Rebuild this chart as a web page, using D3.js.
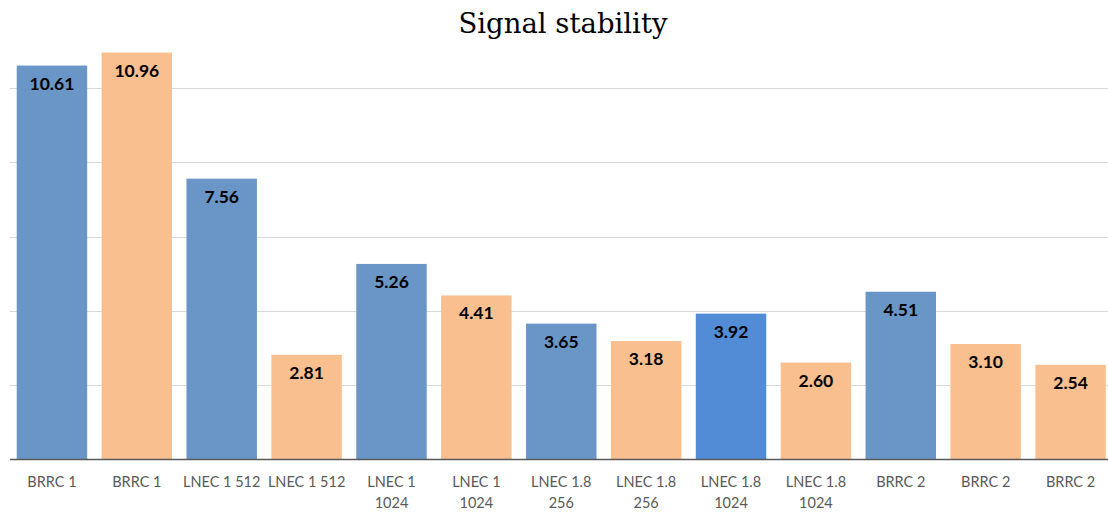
<!DOCTYPE html>
<html>
<head>
<meta charset="utf-8">
<script src="https://cdn.jsdelivr.net/npm/d3@7"></script>
<style>
  body { margin: 0; background: #fff; }
  svg { display: block; }
</style>
</head>
<body>
<div class="main"></div>
<script>
//// Data
const labels = ['BRRC 1', 'BRRC 1', 'LNEC 1 512', 'LNEC 1 512', 'LNEC 1|1024', 'LNEC 1|1024',
  'LNEC 1.8|256', 'LNEC 1.8|256', 'LNEC 1.8|1024', 'LNEC 1.8|1024', 'BRRC 2', 'BRRC 2', 'BRRC 2'];
const values = [10.61, 10.96, 7.56, 2.81, 5.26, 4.41, 3.65, 3.18, 3.92, 2.60, 4.51, 3.10, 2.54];
const colors = ['#6a95c7', '#f9bf8f', '#6a95c7', '#f9bf8f', '#6a95c7', '#f9bf8f', '#6a95c7',
  '#f9bf8f', '#528bd6', '#f9bf8f', '#6a95c7', '#f9bf8f', '#f9bf8f'];
const gridTicks = [2, 4, 6, 8, 10];

//// Layout
const width = 1108;
const height = 512;
const plotLeft = 9.5, plotRight = 1113, plotTop = 14, plotBottom = 459;

const svg = d3.select('.main').append('svg')
  .attr('width', width)
  .attr('height', height);

const xScale = d3.scaleBand()
  .domain(d3.range(values.length))
  .range([plotLeft, plotRight])
  .paddingInner(0.17)
  .paddingOuter(0.085);

const yScale = d3.scaleLinear()
  .domain([0, 12])
  .range([plotBottom, plotTop]);

// gridlines
svg.append('g')
  .selectAll('line')
  .data(gridTicks)
  .enter()
  .append('line')
  .attr('x1', plotLeft)
  .attr('x2', width)
  .attr('y1', d => Math.round(yScale(d)) + 0.5)
  .attr('y2', d => Math.round(yScale(d)) + 0.5)
  .attr('stroke', '#d9d9d9')
  .attr('stroke-width', 1);

// bars
svg.selectAll('rect.bar')
  .data(values)
  .enter()
  .append('rect')
  .attr('class', 'bar')
  .attr('x', (d, i) => xScale(i))
  .attr('y', d => yScale(d))
  .attr('width', xScale.bandwidth())
  .attr('height', d => plotBottom - yScale(d))
  .attr('fill', (d, i) => colors[i]);

// value labels
svg.selectAll('text.val')
  .data(values)
  .enter()
  .append('text')
  .attr('class', 'val')
  .attr('x', (d, i) => xScale(i) + xScale.bandwidth() / 2)
  .attr('y', d => yScale(d) + 24)
  .attr('text-anchor', 'middle')
  .style('font-family', 'Lato, "Open Sans", sans-serif')
  .style('font-weight', 'bold')
  .style('font-size', '17.5px')
  .style('fill', '#000')
  .text(d => d.toFixed(2));

// x axis
const xAxis = d3.axisBottom(xScale).tickSize(0).tickFormat(i => labels[i]);
const gx = svg.append('g')
  .attr('transform', `translate(0, ${plotBottom})`)
  .call(xAxis);
gx.select('.domain').attr('stroke', '#595959').attr('stroke-width', 1.5);
gx.selectAll('.tick text')
  .style('font-family', 'Lato, "Open Sans", sans-serif')
  .style('font-size', '14.5px')
  .style('fill', '#595959')
  .each(function (i) {
    const lines = labels[i].split('|');
    const t = d3.select(this).text(null).attr('y', 0).attr('dy', null);
    lines.forEach((l, k) => {
      t.append('tspan').attr('x', 0).attr('y', 28 + k * 21).text(l);
    });
  });

// title
svg.append('text')
  .attr('x', 563)
  .attr('y', 33)
  .attr('text-anchor', 'middle')
  .style('font-family', '"DejaVu Serif", serif')
  .style('font-size', '27.5px')
  .style('fill', '#000')
  .text('Signal stability');
</script>
</body>
</html>
